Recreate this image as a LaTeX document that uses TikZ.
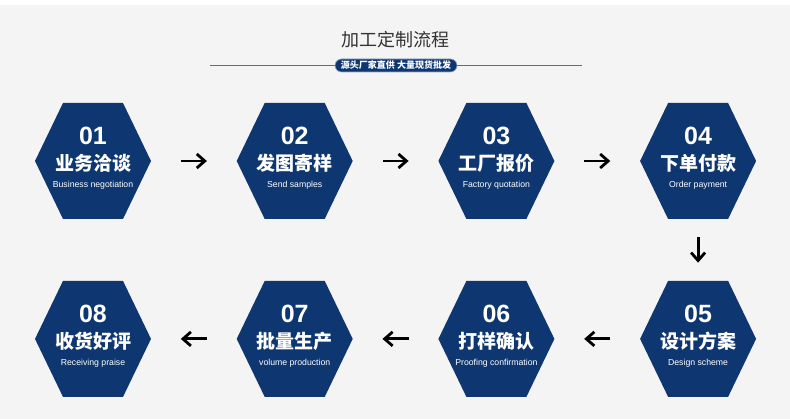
\documentclass[tikz,border=0pt]{standalone}
\usepackage{fontspec}
\setmainfont{Liberation Sans}
\newfontfamily\cjk{Noto Sans CJK SC}
\usetikzlibrary{positioning}
\usetikzlibrary{arrows.meta}
\definecolor{stepblue}{HTML}{0E3670}
\definecolor{pagegray}{HTML}{F4F4F4}
\definecolor{rulecol}{HTML}{4F6E98}
\definecolor{titlegray}{HTML}{333333}

% fonts of the three lines inside a step
\newcommand{\numfont}{\bfseries\fontsize{25}{25}\selectfont}
\newcommand{\cnfont}{\cjk\bfseries\fontsize{19}{19}\selectfont}
\newcommand{\enfont}{\fontsize{8.7}{8.7}\selectfont}
% number / chinese name / english name, baselines fixed by struts
\newcommand{\steptext}[3]{{\def\arraystretch{0}%
  \begin{tabular}{@{}c@{}}
    \rule{0pt}{11pt}\smash{\numfont #1}\\
    \rule{0pt}{26pt}\smash{\cnfont #2}\\
    \rule{0pt}{17pt}\smash{\enfont #3}
  \end{tabular}}}

\tikzset{
  % A step of the process: a tall dark blue hexagon
  hexstep/.style={
    minimum width=116pt, minimum height=116pt, inner sep=0pt, text=white,
    path picture={\fill[stepblue]
      (path picture bounding box.west)
      -- ([xshift=28pt]path picture bounding box.north west)
      -- ([xshift=-28pt]path picture bounding box.north east)
      -- (path picture bounding box.east)
      -- ([xshift=-28pt]path picture bounding box.south east)
      -- ([xshift=28pt]path picture bounding box.south west)
      -- cycle;}},
  % Title, the rule under it and the tag on the rule
  heading/.style={font=\cjk\fontsize{18}{18}\selectfont, text=titlegray, inner sep=0pt},
  rulebar/.style={draw=rulecol, line width=0.9pt},
  tagline/.style={
    fill=stepblue, draw=rulecol!60, line width=0.6pt, rounded corners=6.5pt,
    minimum width=122pt, minimum height=13pt, inner sep=0pt, text=white,
    font=\cjk\bfseries\fontsize{9}{9}\selectfont},
  % Arrows from one step to the next
  stepflow/.style={-{Straight Barb[length=8pt,width=14pt]}, line width=2.8pt,
    shorten <=#1, shorten >=#1},
  stepflow/.default=29.6pt,
}

\begin{document}
\begin{tikzpicture}[x=1pt, y=1pt]

\useasboundingbox (0,0) rectangle (790,-419);
\fill[pagegray] (0,0) rectangle (790,-419);
\fill[white] (0,0) rectangle (790,-5);

\node[heading] (title) at (395,-40) {加工定制流程};
\coordinate (barL) at (210,-65.5);
\coordinate (barR) at (582,-65.5);
\draw[rulebar] (barL) -- (barR);
\node[tagline] (tag) at (396,-65.5) {源头厂家直供 大量现货批发};

% first row, left to right
\node[hexstep] (s1) at (93,-161) {\steptext{01}{业务洽谈}{Business negotiation}};
\node[hexstep, right=85.3pt of s1] (s2) {\steptext{02}{发图寄样}{Send samples}};
\node[hexstep, right=85.3pt of s2] (s3) {\steptext{03}{工厂报价}{Factory quotation}};
\node[hexstep, right=85.3pt of s3] (s4) {\steptext{04}{下单付款}{Order payment}};

% second row, right to left
\node[hexstep, below=61.5pt of s4] (s5) {\steptext{05}{设计方案}{Design scheme}};
\node[hexstep, left=85.3pt of s5] (s6) {\steptext{06}{打样确认}{Proofing confirmation}};
\node[hexstep, left=85.3pt of s6] (s7) {\steptext{07}{批量生产}{volume production}};
\node[hexstep, left=85.3pt of s7] (s8) {\steptext{08}{收货好评}{Receiving praise}};

\draw[stepflow] (s1.east) -- (s2.west);
\draw[stepflow] (s2.east) -- (s3.west);
\draw[stepflow] (s3.east) -- (s4.west);
\draw[stepflow=18pt] (s4.south) -- (s5.north);
\draw[stepflow] (s5.west) -- (s6.east);
\draw[stepflow] (s6.west) -- (s7.east);
\draw[stepflow] (s7.west) -- (s8.east);

\end{tikzpicture}
\end{document}
